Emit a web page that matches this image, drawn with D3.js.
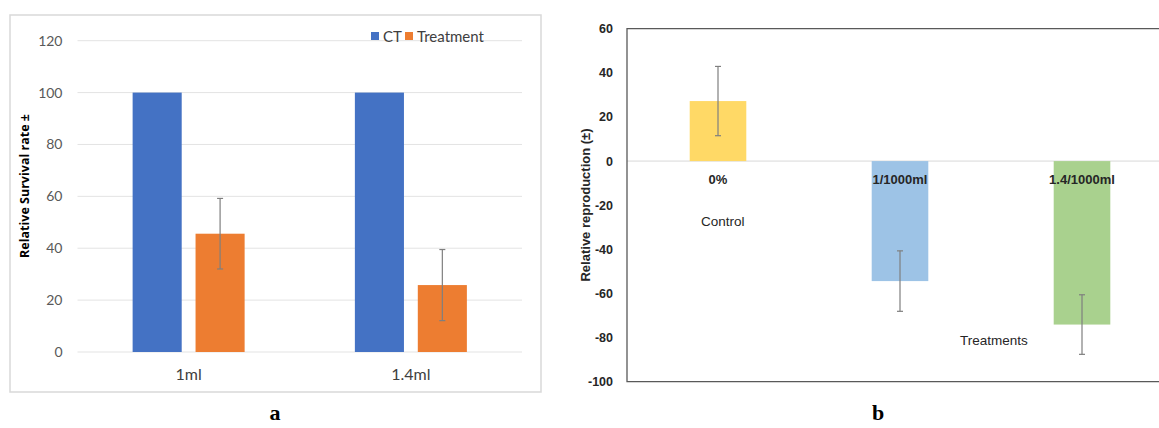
<!DOCTYPE html>
<html>
<head>
<meta charset="utf-8">
<script src="https://cdn.jsdelivr.net/npm/d3@7"></script>
<style>
  body { margin: 0; background: #fff; }
  svg { display: block; }
</style>
</head>
<body>
<svg id="chart" width="1159" height="428"></svg>
<script>
// panel a: survival
const doses = ["1ml", "1.4ml"];
const groups = ["CT", "Treatment"];
const ctValues = [100, 100];
const treatValues = [45.6, 25.8];
const treatErrors = [13.6, 13.7];
const survivalTicks = [0, 20, 40, 60, 80, 100, 120];

// panel b: reproduction
const reproCats = ["0%", "1/1000ml", "1.4/1000ml"];
const reproValues = [27.2, -54.4, -74.1];
const reproErrors = [15.7, 13.7, 13.5];
const reproTicks = [60, 40, 20, 0, -20, -40, -60, -80, -100];

const svg = d3.select("#chart");

// ---------- panel a ----------
const A = { left: 77.5, right: 522, top: 40.7, bottom: 352 };
const gA = svg.append("g").attr("font-family", "Lato, 'Open Sans', sans-serif");

// frame
gA.append("rect")
  .attr("x", 10).attr("y", 15).attr("width", 531).attr("height", 377)
  .attr("fill", "none").attr("stroke", "#d9d9d9").attr("stroke-width", 1.5);

const xA = d3.scaleBand().domain(doses).range([A.left, A.right]);
const yA = d3.scaleLinear().domain([0, 120]).range([A.bottom, A.top]);

// grid
gA.append("g").selectAll("line")
  .data(survivalTicks)
  .join("line")
  .attr("x1", A.left).attr("x2", A.right)
  .attr("y1", (d) => yA(d)).attr("y2", (d) => yA(d))
  .attr("stroke", "#e3e3e3").attr("stroke-width", 1);

// y tick labels
const yAxisA = gA.append("g")
  .attr("transform", `translate(${A.left - 6},0)`)
  .call(d3.axisLeft(yA).tickValues(survivalTicks).tickSize(0).tickPadding(9));
yAxisA.select(".domain").remove();
yAxisA.selectAll("text")
  .attr("font-size", 14).attr("fill", "#595959").attr("font-family", "Lato, sans-serif");

// x labels
const xAxisA = gA.append("g")
  .attr("transform", `translate(0,${A.bottom})`)
  .call(d3.axisBottom(xA).tickSize(0).tickPadding(17));
xAxisA.select(".domain").remove();
xAxisA.selectAll("text")
  .attr("font-size", 16).attr("fill", "#404040").attr("font-family", "Lato, sans-serif");

// grouped bars
const xSub = d3.scaleBand().domain(groups).range([-56, 56]).paddingInner(0.22);
const colorA = d3.scaleOrdinal().domain(groups).range(["#4472c4", "#ed7d31"]);

const barsA = doses.map((d, i) => [
  { dose: d, group: "CT", value: ctValues[i], err: null },
  { dose: d, group: "Treatment", value: treatValues[i], err: treatErrors[i] }
]).flat();

gA.append("g").selectAll("rect")
  .data(barsA)
  .join("rect")
  .attr("x", (d) => xA(d.dose) + xA.bandwidth() / 2 + xSub(d.group))
  .attr("width", xSub.bandwidth())
  .attr("y", (d) => yA(d.value))
  .attr("height", (d) => yA(0) - yA(d.value))
  .attr("fill", (d) => colorA(d.group));

// error bars
const errA = gA.append("g").attr("stroke", "#7f7f7f").attr("stroke-width", 1.2);
barsA.filter((d) => d.err !== null).forEach((d) => {
  const cx = xA(d.dose) + xA.bandwidth() / 2 + xSub(d.group) + xSub.bandwidth() / 2;
  errA.append("line").attr("x1", cx).attr("x2", cx)
    .attr("y1", yA(d.value + d.err)).attr("y2", yA(d.value - d.err));
  [d.value + d.err, d.value - d.err].forEach((v) => {
    errA.append("line").attr("x1", cx - 3).attr("x2", cx + 3)
      .attr("y1", yA(v)).attr("y2", yA(v));
  });
});

// y title
gA.append("text")
  .attr("transform", `translate(29,186) rotate(-90)`)
  .attr("text-anchor", "middle")
  .attr("font-family", "'Open Sans', sans-serif")
  .attr("font-size", 12.5).attr("font-weight", "bold").attr("fill", "#000")
  .text("Relative Survival rate ±");

// legend
const legA = gA.append("g").attr("transform", "translate(371,32)");
const legX = [0, 34];
groups.forEach((g, i) => {
  legA.append("rect").attr("x", legX[i]).attr("y", 0).attr("width", 8).attr("height", 8)
    .attr("fill", colorA(g));
  legA.append("text").attr("x", legX[i] + 12).attr("y", 9.5)
    .attr("font-size", 15).attr("fill", "#404040").text(g);
});

// panel letter
svg.append("text")
  .attr("x", 275).attr("y", 420).attr("text-anchor", "middle")
  .attr("font-family", "'Liberation Serif', 'DejaVu Serif', serif")
  .attr("font-size", 22).attr("font-weight", "bold").text("a");

// ---------- panel b ----------
const B = { left: 627, right: 1173, top: 28.7, bottom: 381.7 };
const gB = svg.append("g").attr("font-family", "'Liberation Sans', Arial, sans-serif");

const xB = d3.scaleBand().domain(reproCats).range([B.left, B.right]).paddingInner(0).paddingOuter(0);
const yB = d3.scaleLinear().domain([-100, 60]).range([B.bottom, B.top]);
const colorB = d3.scaleOrdinal().domain(reproCats).range(["#ffd966", "#9dc3e6", "#a9d18e"]);

// zero line
gB.append("line")
  .attr("x1", B.left).attr("x2", B.right)
  .attr("y1", yB(0)).attr("y2", yB(0))
  .attr("stroke", "#d9d9d9").attr("stroke-width", 1);

const barW = 56.6;
const barsB = reproCats.map((c, i) => ({ cat: c, value: reproValues[i], err: reproErrors[i] }));

gB.append("g").selectAll("rect")
  .data(barsB)
  .join("rect")
  .attr("x", (d) => xB(d.cat) + xB.bandwidth() / 2 - barW / 2)
  .attr("width", barW)
  .attr("y", (d) => yB(Math.max(0, d.value)))
  .attr("height", (d) => Math.abs(yB(d.value) - yB(0)))
  .attr("fill", (d) => colorB(d.cat));

// error bars
const errB = gB.append("g").attr("stroke", "#7f7f7f").attr("stroke-width", 1.2);
barsB.forEach((d) => {
  const cx = xB(d.cat) + xB.bandwidth() / 2;
  errB.append("line").attr("x1", cx).attr("x2", cx)
    .attr("y1", yB(d.value + d.err)).attr("y2", yB(d.value - d.err));
  [d.value + d.err, d.value - d.err].forEach((v) => {
    errB.append("line").attr("x1", cx - 3).attr("x2", cx + 3)
      .attr("y1", yB(v)).attr("y2", yB(v));
  });
});

// frame lines: top, left, bottom
gB.append("path")
  .attr("d", `M${B.right},${B.top}H${B.left}V${B.bottom}H${B.right}`)
  .attr("fill", "none").attr("stroke", "#595959").attr("stroke-width", 1.3);

// y tick labels (plain hyphen minus like the original)
const yAxisB = gB.append("g")
  .attr("transform", `translate(${B.left},0)`)
  .call(d3.axisLeft(yB).tickValues(reproTicks).tickSize(0).tickPadding(14)
    .tickFormat((d) => String(d)));
yAxisB.select(".domain").remove();
yAxisB.selectAll("text")
  .attr("font-size", 12.5).attr("font-weight", "bold").attr("fill", "#262626")
  .attr("font-family", "'Liberation Sans', Arial, sans-serif");

// category labels below zero line
gB.append("g").selectAll("text")
  .data(reproCats)
  .join("text")
  .attr("x", (d) => xB(d) + xB.bandwidth() / 2)
  .attr("y", yB(0) + 23)
  .attr("text-anchor", "middle")
  .attr("font-size", 13).attr("font-weight", "bold").attr("fill", "#262626")
  .text((d) => d);

// annotations
gB.append("text").attr("x", 701).attr("y", 226)
  .attr("font-size", 13.5).attr("fill", "#262626").text("Control");
gB.append("text").attr("x", 960).attr("y", 345)
  .attr("font-size", 13.5).attr("fill", "#262626").text("Treatments");

// y title
gB.append("text")
  .attr("transform", `translate(590,205) rotate(-90)`)
  .attr("text-anchor", "middle")
  .attr("font-size", 13).attr("font-weight", "bold").attr("fill", "#262626")
  .text("Relative reproduction  (±)");

// panel letter
svg.append("text")
  .attr("x", 878).attr("y", 420).attr("text-anchor", "middle")
  .attr("font-family", "'Liberation Serif', 'DejaVu Serif', serif")
  .attr("font-size", 22).attr("font-weight", "bold").text("b");
</script>
</body>
</html>
